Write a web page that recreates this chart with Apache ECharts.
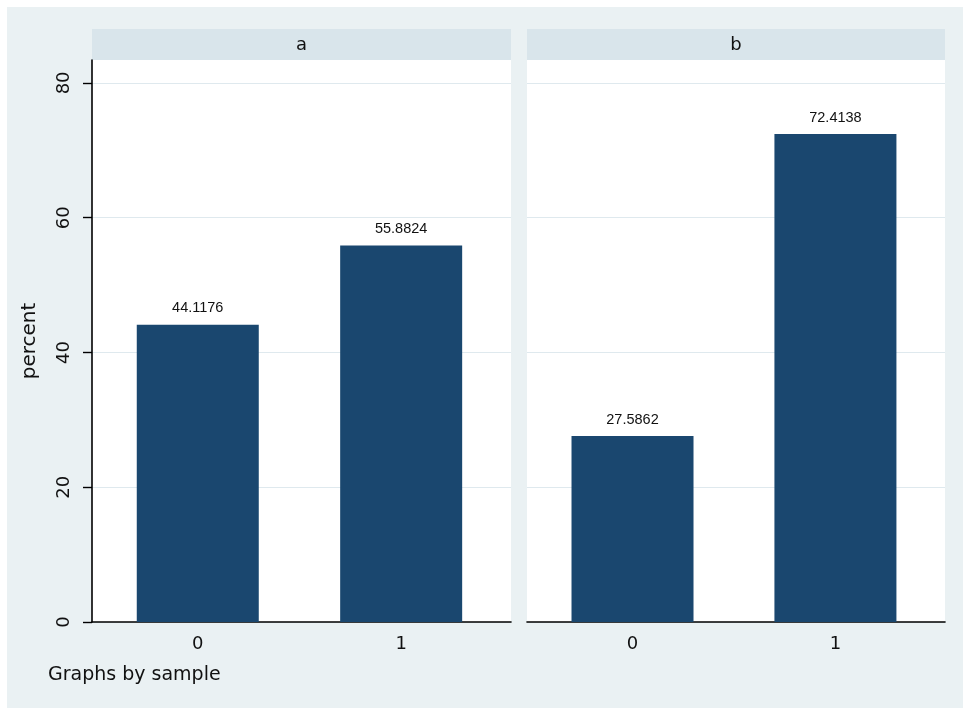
<!DOCTYPE html>
<html>
<head>
<meta charset="utf-8">
<script src="https://cdn.jsdelivr.net/npm/echarts@6/dist/echarts.min.js"></script>
<style>
  html, body { margin: 0; padding: 0; background: #ffffff; }
  #chart { width: 963px; height: 708px; }
</style>
</head>
<body>
<div id="chart"></div>
<script>
// Percent of observations by outcome (0/1), one panel per sample
const panelNames = ['a', 'b'];
const categories = [0, 1];
const percentA = [44.1176, 55.8824];
const percentB = [27.5862, 72.4138];
const yTicks = [0, 20, 40, 60, 80];

const navy = '#1a476f';
const panelBg = '#d9e5eb';
const outerBg = '#eaf1f3';
const gridColor = '#dfe9ee';
const font = 'DejaVu Sans';

const panels = [
  { left: 92, width: 419, values: percentA },
  { left: 527, width: 418, values: percentB }
];
const plotTop = 60, plotBottom = 622;

const chart = echarts.init(document.getElementById('chart'), null, { renderer: 'canvas' });

const grids = panels.map(p => ({
  left: p.left, top: plotTop, width: p.width, height: plotBottom - plotTop,
  show: true, backgroundColor: '#ffffff', borderWidth: 0
}));

const xAxes = panels.map((p, i) => ({
  type: 'value', gridIndex: i, min: -0.52, max: 1.54,
  splitLine: { show: false },
  axisTick: { show: false },
  axisLine: { show: true, onZero: false, lineStyle: { color: '#000', width: 1.6 } },
  axisLabel: {
    customValues: categories, margin: 13,
    fontFamily: font, fontSize: 18, color: '#111'
  }
}));

const yAxes = panels.map((p, i) => ({
  type: 'value', gridIndex: i, min: 0, max: 83.4, interval: 20,
  splitLine: { show: true, lineStyle: { color: gridColor, width: 1 } },
  axisLine: { show: i === 0, onZero: false, lineStyle: { color: '#000', width: 1.6 } },
  axisTick: { show: i === 0, length: 9, lineStyle: { color: '#000', width: 1.4 }, customValues: yTicks },
  axisLabel: {
    show: i === 0, customValues: yTicks, rotate: 90, margin: 19,
    fontFamily: font, fontSize: 18, color: '#111'
  },
  name: i === 0 ? 'percent' : '',
  nameLocation: 'middle', nameGap: 52, nameRotate: 90,
  nameTextStyle: { fontFamily: font, fontSize: 20, color: '#111' }
}));

const series = panels.map((p, i) => ({
  type: 'bar', xAxisIndex: i, yAxisIndex: i,
  barWidth: 122,
  data: categories.map((c, k) => [c, p.values[k]]),
  itemStyle: { color: navy },
  label: {
    show: true, position: 'top', distance: 9,
    fontFamily: 'Liberation Sans', fontSize: 14.5, color: '#111',
    formatter: d => String(d.value[1])
  },
  emphasis: { disabled: true },
  silent: true
}));

const graphics = [
  { type: 'rect', shape: { x: 7, y: 7, width: 963 - 7, height: 708 - 7 }, style: { fill: outerBg }, z: -10 }
];
panels.forEach((p, i) => {
  graphics.push({ type: 'rect', shape: { x: p.left, y: 29, width: p.width, height: 31 }, style: { fill: panelBg }, z: -5 });
  graphics.push({
    type: 'text', x: p.left + p.width / 2, y: 45,
    style: { text: panelNames[i], fontFamily: font, fontSize: 18, fill: '#111', align: 'center', verticalAlign: 'middle' }, z: 5
  });
});
graphics.push({
  type: 'text', x: 48, y: 675,
  style: { text: 'Graphs by sample', fontFamily: font, fontSize: 19, fill: '#111', align: 'left', verticalAlign: 'middle' }, z: 5
});

chart.setOption({
  backgroundColor: '#ffffff',
  animation: false,
  graphic: { elements: graphics },
  grid: grids,
  xAxis: xAxes,
  yAxis: yAxes,
  series: series
});
</script>
</body>
</html>
